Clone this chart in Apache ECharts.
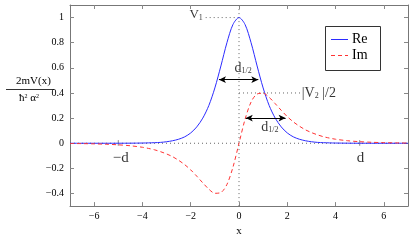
<!DOCTYPE html>
<html><head><meta charset="utf-8">
<script src="https://cdn.jsdelivr.net/npm/echarts@6/dist/echarts.min.js"></script>
<style>html,body{margin:0;padding:0;background:#fff}#c{width:415px;height:242px}</style>
</head><body><div id="c"></div>
<script>
const xs=[-7,-6.5,-6,-5.5,-5,-4.5,-4,-3.75,-3.5,-3.25,-3,-2.75,-2.5,-2.25,-2,-1.75,-1.5,-1.25,-1,-0.75,-0.5,-0.25,0,0.25,0.5,0.75,1,1.25,1.5,1.75,2,2.25,2.5,2.75,3,3.25,3.5,3.75,4,4.5,5,5.5,6,6.5,7];
const reVals=[0,0,0,0,0.0002,0.0006,0.0017,0.003,0.0045,0.007,0.012,0.02,0.032,0.051,0.082,0.13,0.20,0.30,0.44,0.615,0.80,0.945,1,0.945,0.80,0.615,0.44,0.30,0.20,0.13,0.082,0.051,0.032,0.02,0.012,0.007,0.0045,0.003,0.0017,0.0006,0.0002,0,0,0,0];
const imVals=[-0.0018,-0.003,-0.0048,-0.0078,-0.0125,-0.02,-0.032,-0.041,-0.052,-0.067,-0.085,-0.107,-0.136,-0.170,-0.212,-0.262,-0.315,-0.365,-0.398,-0.392,-0.328,-0.19,0,0.19,0.328,0.392,0.398,0.365,0.315,0.262,0.212,0.170,0.136,0.107,0.085,0.067,0.052,0.041,0.032,0.02,0.0125,0.0078,0.0048,0.003,0.0018];
const xTicks=[-6,-4,-2,0,2,4,6];
const yTicks=[-0.4,-0.2,0,0.2,0.4,0.6,0.8,1];
const seriesNames=['Re','Im'];

const SERIF='Liberation Serif, Times New Roman, serif';
const BLUE='#2b2bff', RED='#ff3333';
const chart=echarts.init(document.getElementById('c'),null,{renderer:'canvas'});
const fmtNum=v=>{const r=Math.round(v*10)/10;return (r<0?'\u2212':'')+Math.abs(r);};
const axisLine={show:true,onZero:false,lineStyle:{color:'#777',width:1}};
const tick=(vals)=>({show:true,inside:true,length:4,customValues:vals,lineStyle:{color:'#888'}});
const dotted=(pts)=>({type:'line',data:pts,symbol:'none',silent:true,z:1,
  lineStyle:{color:'#666',width:1,type:[1,3]}});
const tickMark=(pts)=>({type:'line',data:pts,symbol:'none',silent:true,z:1,
  lineStyle:{color:'#888',width:1}});
const lbl=(x,y,text,align,fs)=>({value:[x,y],label:{show:true,formatter:text,align:align,verticalAlign:'middle',
  color:'#000',fontFamily:SERIF,
  rich:{a:{fontSize:fs||14,fontFamily:SERIF,color:'#000'},s:{fontSize:8,fontFamily:SERIF,color:'#000',verticalAlign:'bottom',lineHeight:8}}}});

chart.setOption({
  animation:false,
  grid:{left:70,right:7,top:5,bottom:32,containLabel:false},
  xAxis:[
    {type:'value',min:-7,max:7,position:'bottom',name:'x',nameLocation:'middle',nameGap:18,
      nameTextStyle:{fontFamily:SERIF,fontSize:11,color:'#000'},
      axisLine:axisLine,axisTick:tick(xTicks),splitLine:{show:false},
      axisLabel:{customValues:xTicks,formatter:fmtNum,fontFamily:SERIF,fontSize:10,color:'#000',margin:5}},
    {type:'value',min:-7,max:7,position:'top',axisLabel:{show:false},
      axisLine:axisLine,axisTick:tick(xTicks),splitLine:{show:false}}
  ],
  yAxis:[
    {type:'value',min:-0.5,max:1.1,position:'left',
      axisLine:axisLine,axisTick:tick(yTicks),splitLine:{show:false},
      axisLabel:{customValues:yTicks,formatter:fmtNum,fontFamily:SERIF,fontSize:10,color:'#000',margin:6}},
    {type:'value',min:-0.5,max:1.1,position:'right',axisLabel:{show:false},
      axisLine:axisLine,axisTick:tick(yTicks),splitLine:{show:false}}
  ],
  graphic:[
    {type:'text',left:16,top:76,style:{text:'2mV(x)',font:'11px '+SERIF,fill:'#000'}},
    {type:'line',shape:{x1:6,y1:89.5,x2:54,y2:89.5},style:{stroke:'#333',lineWidth:1}},
    {type:'text',left:19,top:93,style:{text:'{a|ħ}{p|2}{a| α}{p|2}',font:'11px '+SERIF,fill:'#000',
      rich:{a:{fontSize:11,fontFamily:SERIF},p:{fontSize:6,fontFamily:SERIF,verticalAlign:'top',lineHeight:6}}}},
    {type:'rect',shape:{x:325.5,y:26.5,width:55,height:44},style:{fill:'none',stroke:'#333',lineWidth:1}},
    {type:'text',x:352,y:39.5,style:{text:seriesNames[0],font:'14px '+SERIF,fill:'#000',verticalAlign:'middle'}},
    {type:'text',x:352,y:55.5,style:{text:seriesNames[1],font:'14px '+SERIF,fill:'#000',verticalAlign:'middle'}}
  ],
  series:[
    dotted([[-7,0],[7,0]]),
    dotted([[0,-0.5],[0,1.1]]),
    dotted([[-1.38,1],[0,1]]),
    dotted([[0,0.4],[2.55,0.4]]),
    tickMark([[-5,0.025],[-5,-0.02]]),
    tickMark([[5,0.025],[5,-0.02]]),
    {name:seriesNames[0],type:'line',data:xs.map((x,i)=>[x,reVals[i]]),symbol:'none',smooth:0.3,z:3,
      lineStyle:{color:BLUE,width:1},itemStyle:{color:BLUE},
      markLine:{silent:true,symbol:['arrow','arrow'],symbolSize:[5,7],label:{show:false},
        lineStyle:{color:'#000',width:1,type:'solid'},
        data:[[{coord:[-0.83,0.506]},{coord:[0.8,0.506]}],[{coord:[0.28,0.2]},{coord:[1.93,0.2]}],
          [{x:331,y:39.5,symbol:'none',lineStyle:{color:BLUE,width:1,type:'solid'}},{x:348,y:39.5,symbol:'none'}]]}},
    {name:seriesNames[1],type:'line',data:xs.map((x,i)=>[x,imVals[i]]),symbol:'none',smooth:0.3,z:3,
      lineStyle:{color:RED,width:1,type:[4,3]},itemStyle:{color:RED},
      markLine:{silent:true,symbol:['none','none'],label:{show:false},
        lineStyle:{color:RED,width:1,type:[4,3]},
        data:[[{x:331,y:55.5},{x:348,y:55.5}]]}},
    {type:'scatter',symbolSize:0,silent:true,z:5,data:[
      lbl(-1.5,1.02,'{a|V}{s|1}','right',13),
      lbl(0.17,0.6,'{a|d}{s|1/2}','center',14),
      lbl(1.28,0.13,'{a|d}{s|1/2}','center',14),
      lbl(2.6,0.4,'{a||V}{s|2}{a| |/2}','left',14),
      lbl(-4.9,-0.115,'{a|\u2212d}','center',15),
      lbl(5.03,-0.115,'{a|d}','center',15)
    ]}
  ]
});
</script></body></html>
